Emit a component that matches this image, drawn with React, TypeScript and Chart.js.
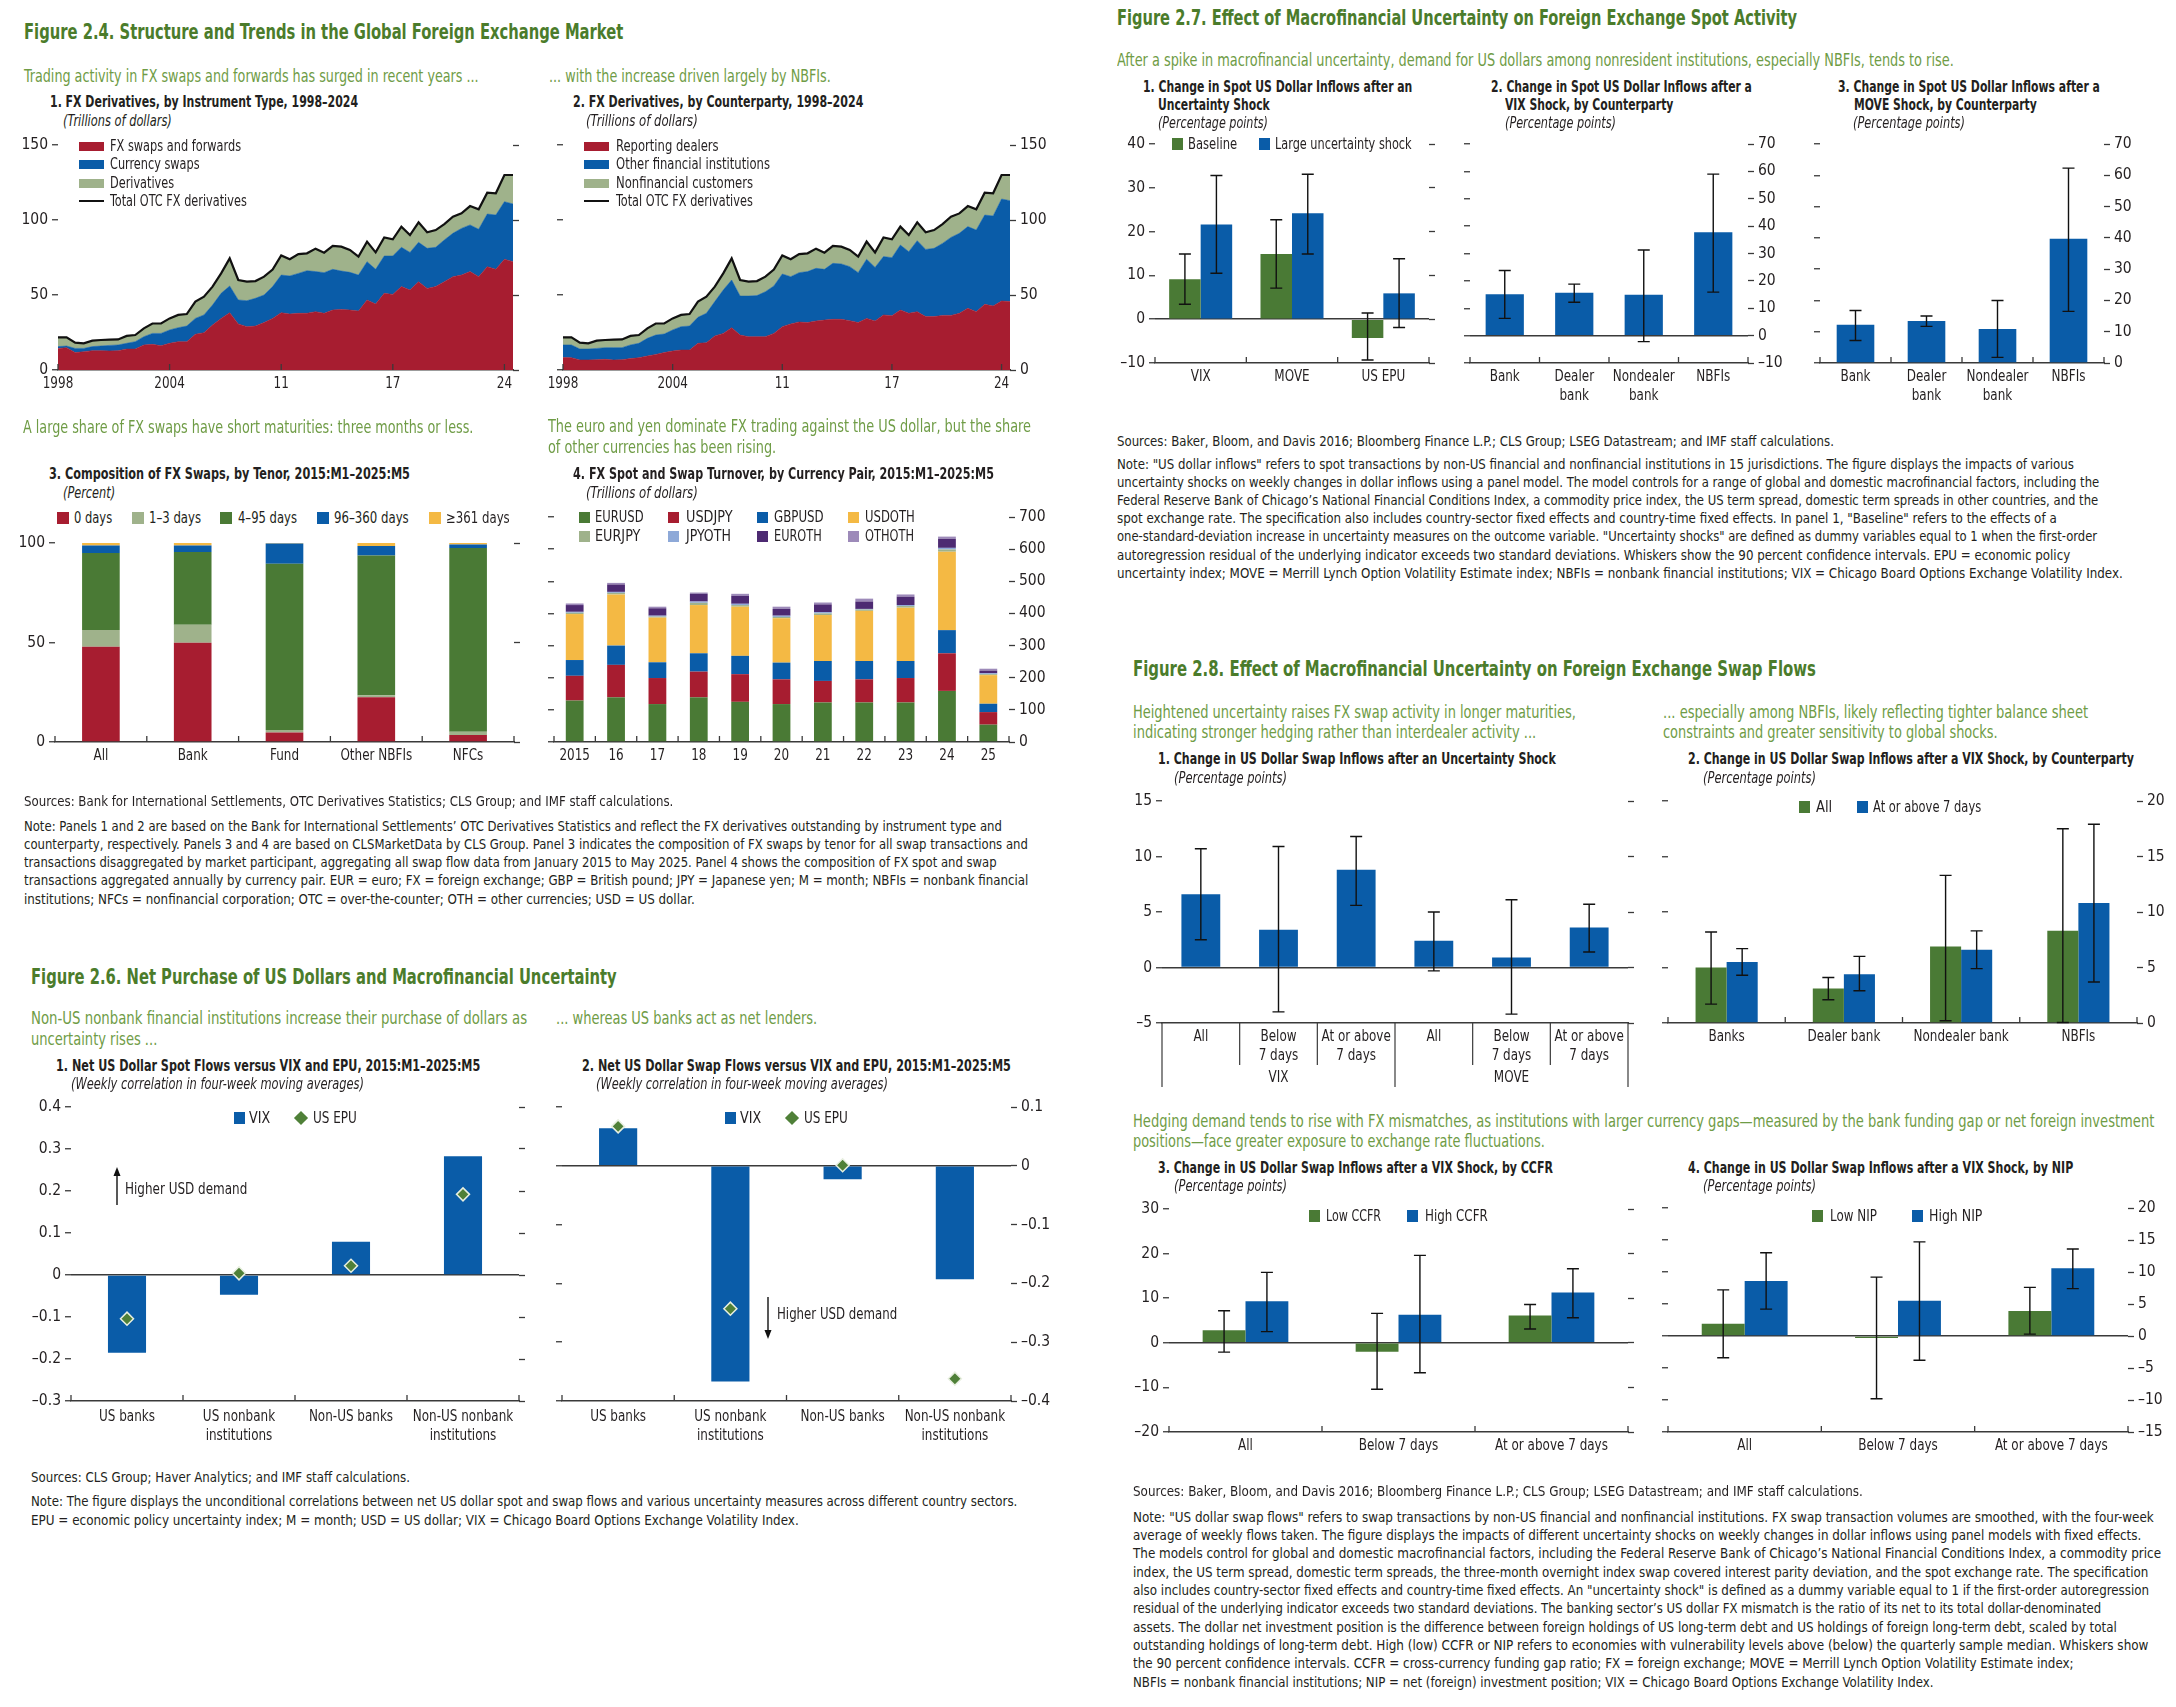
import React, { useEffect, useLayoutEffect, useRef } from 'react';
import { Chart, registerables } from 'chart.js';
Chart.register(...registerables);

// ---------- style constants ----------
const FONT = "'Liberation Sans Narrow', 'DejaVu Sans Condensed', Roboto, sans-serif";
const AX = '#3a3a3a';
const TXT = '#231f20';
const RED = '#a71d30';
const BLUE = '#0a5ca8';
const LGREEN = '#9fb28b';
const DGREEN = '#4a7a35';
const YELLOW = '#f4b944';
const LBLUE = '#8ea9d8';
const DPURPLE = '#4d2a72';
const LPURPLE = '#9d8ab9';
const TGREEN = '#4b7c2b';
const SGREEN = '#6f9c46';

// ---------- Figure 2.4 data ----------
const halfYears: string[] = [];
for (let y = 1998; y <= 2024; y++) { halfYears.push(y + ':H1'); halfYears.push(y + ':H2'); }
const periodTickIdx = [0, 13, 26, 39, 52];
const periodTickLabels = ['1998', '2004', '11', '17', '24'];

const fxSwapsFwd = [14.4,14.9,11.6,12.2,12.9,12.9,12.7,12.9,14.0,14.0,16.7,17.1,16.2,17.8,18.9,18.9,23.8,24.9,30.0,34.4,38.2,30.7,28.9,29.3,31.6,34.4,38.2,37.3,37.8,37.8,38.9,37.8,40.0,40.4,40.0,39.3,46.7,44.0,51.1,50.4,55.6,53.3,58.9,54.4,55.6,58.9,62.2,63.3,65.6,62.2,68.9,67.1,73.8,72.2];
const currencySwaps = [1.2,1.1,2.8,2.2,2.7,3.1,3.7,3.8,3.8,4.9,5.5,7.3,8.2,8.9,9.3,10.4,10.6,11.8,13.3,16.7,17.8,16.0,17.3,18.5,18.4,21.2,25.1,25.4,26.6,28.4,26.7,27.1,27.1,25.6,25.1,24.0,25.5,23.1,24.9,25.6,26.2,25.1,26.2,26.7,26.2,27.8,28.9,31.1,31.1,31.6,35.1,36.2,38.4,38.5];
const otherDerivs = [6.2,5.8,3.8,3.4,4.0,4.0,3.8,3.7,4.9,4.4,5.6,6.6,6.6,7.7,8.5,8.0,11.2,12.2,12.3,13.3,18.4,13.3,12.7,11.5,12.2,11.4,13.1,11.1,12.9,11.6,15.3,13.3,15.6,16.2,14.9,12.3,13.4,11.3,12.4,11.1,13.8,11.6,13.3,10.7,11.5,10.6,11.1,10.0,12.6,13.3,14.2,14.5,17.8,19.3];
const totalOTC = [21.8,21.8,18.2,17.8,19.6,20.0,20.2,20.4,22.7,23.3,27.8,31.0,31.0,34.4,36.7,37.3,45.6,48.9,55.6,64.4,74.4,60.0,58.9,59.3,62.2,67.0,76.4,73.8,77.3,77.8,80.9,78.2,82.7,82.2,80.0,75.6,85.6,78.4,88.4,87.1,95.6,90.0,98.4,91.8,93.3,97.3,102.2,104.4,109.3,107.1,118.2,117.8,130.0,130.0];

const reportingDealers = [8.4,8.2,6.7,6.7,6.9,7.1,6.7,6.9,7.6,8.2,9.3,10.4,11.6,12.7,13.3,13.3,17.8,18.2,22.7,24.4,28.2,23.3,22.2,22.2,22.2,24.4,28.9,30.7,32.0,31.6,32.7,33.3,33.8,33.8,32.9,31.6,34.4,32.7,36.7,36.2,40.0,37.8,38.9,35.6,35.6,36.4,36.4,37.8,41.1,38.9,43.8,42.7,46.0,45.6];
const otherFinInst = [8.3,8.5,7.3,7.3,7.5,7.8,8.2,8.0,9.1,9.6,11.8,12.9,12.4,14.0,15.6,16.0,17.3,19.6,22.9,28.9,31.8,26.0,27.1,27.4,30.0,31.6,35.1,31.5,32.9,34.0,35.1,33.8,37.3,36.9,36.0,33.3,39.4,35.7,38.9,38.7,43.3,41.1,47.3,44.8,45.5,48.0,52.0,53.3,54.5,54.4,59.5,60.0,68.0,67.3];
const nonfinCustomers = [5.1,5.1,4.2,3.8,5.2,5.1,5.3,5.5,6.0,5.5,6.7,7.7,7.0,7.7,7.8,8.0,10.5,11.1,10.0,11.1,14.4,10.7,9.6,9.7,10.0,11.0,12.4,11.6,12.4,12.2,13.1,11.1,11.6,11.5,11.1,10.7,11.8,10.0,12.8,12.2,12.3,11.1,12.2,11.4,12.2,12.9,13.8,13.3,13.7,13.8,14.9,15.1,16.0,17.1];

const tenorCats = ['All', 'Bank', 'Fund', 'Other NBFIs', 'NFCs'];
const days0 = [47.9, 49.9, 4.8, 22.5, 3.5];
const days1to3 = [8.4, 9.0, 1.2, 1.0, 1.7];
const days4to95 = [38.7, 36.6, 83.6, 70.2, 92.3];
const days96to360 = [3.8, 3.3, 10.1, 4.8, 1.8];
const days361plus = [1.2, 1.2, 0.3, 1.5, 0.7];

const turnoverYears = ['2015', '16', '17', '18', '19', '20', '21', '22', '23', '24', '25'];
const EURUSD = [129, 139, 118, 139, 125, 118, 123, 123, 123, 159, 54];
const USDJPY = [77, 101, 81, 80, 86, 77, 67, 72, 76, 117, 39];
const GBPUSD = [49, 60, 49, 57, 57, 52, 62, 57, 53, 72, 26];
const USDOTH = [143, 159, 139, 150, 153, 138, 143, 156, 166, 244, 89];
const EURJPY = [4, 5, 3, 7, 5, 4, 5, 4, 5, 7, 3];
const JPYOTH = [3, 3, 3, 4, 4, 4, 4, 2, 3, 5, 3];
const EUROTH = [21, 23, 23, 24, 25, 21, 24, 23, 26, 28, 8];
const OTHOTH = [5, 5, 5, 4, 6, 7, 6, 9, 7, 7, 6];

// ---------- Figure 2.6 data ----------
const sectors = [['US banks'], ['US nonbank', 'institutions'], ['Non-US banks'], ['Non-US nonbank', 'institutions']];
const spotVIX = [-0.185, -0.047, 0.079, 0.283];
const spotEPU = [-0.104, 0.004, 0.022, 0.192];
const swapVIX = [0.064, -0.367, -0.023, -0.193];
const swapEPU = [0.067, -0.243, 0.001, -0.362];

// ---------- Figure 2.7 data ----------
const shockCats = ['VIX', 'MOVE', 'US EPU'];
const baseline = [9.1, 14.9, -4.3];
const baselineCI = [[3.4, 14.9], [7.1, 22.7], [-9.3, 1.4]];
const largeShock = [21.6, 24.2, 5.9];
const largeShockCI = [[10.5, 32.8], [14.9, 33.1], [-1.9, 13.8]];
const cptyCats = [['Bank'], ['Dealer', 'bank'], ['Nondealer', 'bank'], ['NBFIs']];
const vixSpot = [15.1, 15.7, 14.9, 37.8];
const vixSpotCI = [[6.3, 23.8], [12.2, 18.8], [-2.2, 31.3], [15.9, 59.0]];
const moveSpot = [12.2, 13.4, 10.9, 39.7];
const moveSpotCI = [[7.2, 16.8], [11.7, 15.0], [1.8, 20.0], [16.5, 62.3]];

// ---------- Figure 2.8 data ----------
const tenorGroups = ['VIX', 'MOVE'];
const tenorLabels = [['All'], ['Below', '7 days'], ['At or above', '7 days']];
const swapShock = [6.6, 3.4, 8.8, 2.4, 0.9, 3.6];
const swapShockCI = [[2.5, 10.7], [-4.0, 10.9], [5.6, 11.8], [-0.3, 5.0], [-4.2, 6.1], [1.4, 5.7]];
const swapCptyCats = ['Banks', 'Dealer bank', 'Nondealer bank', 'NBFIs'];
const swapAll = [5.0, 3.1, 6.9, 8.3];
const swapAllCI = [[1.7, 8.2], [2.1, 4.1], [0.2, 13.3], [0.05, 17.5]];
const swapAbove7 = [5.5, 4.4, 6.6, 10.8];
const swapAbove7CI = [[4.3, 6.7], [2.9, 6.0], [4.9, 8.3], [3.7, 17.9]];
const vulnCats = ['All', 'Below 7 days', 'At or above 7 days'];
const lowCCFR = [2.8, -2.0, 6.1];
const lowCCFR_CI = [[-2.1, 7.2], [-10.4, 6.6], [3.1, 8.6]];
const highCCFR = [9.3, 6.3, 11.3];
const highCCFR_CI = [[2.5, 15.8], [-6.7, 19.6], [5.6, 16.6]];
const lowNIP = [1.9, -0.3, 3.9];
const lowNIP_CI = [[-3.4, 7.2], [-9.8, 9.2], [0.3, 7.6]];
const highNIP = [8.6, 5.5, 10.6];
const highNIP_CI = [[4.2, 13.0], [-3.8, 14.7], [7.4, 13.6]];

// ---------- helpers ----------
type Box = { l: number; r: number; t: number; b: number };
type Mg = { l: number; r: number; t: number; b: number };
const M: Mg = { l: 50, r: 52, t: 14, b: 52 };
const TICK_SIZE = 15.5;

const fmtD = (d: number) => (v: number) => {
  const a = Math.abs(v) < 1e-9 ? 0 : v;
  if (a === 0) return '0';
  return (a < 0 ? '\u2013' : '') + Math.abs(a).toFixed(d);
};

const upTicks = {
  id: 'upTicks',
  afterDatasetsDraw(chart: any, _a: any, opts: any) {
    if (!opts || !opts.mode) return;
    const xs = chart.scales.x;
    const ctx = chart.ctx;
    const yb = chart.chartArea.bottom;
    const n = xs.getLabels().length;
    const pts: number[] = [];
    if (opts.mode === 'idx') (opts.idx as number[]).forEach((i) => pts.push(xs.getPixelForValue(i)));
    else for (let i = 0; i <= n; i++) pts.push(xs.left + (i * (xs.right - xs.left)) / n);
    ctx.save();
    ctx.strokeStyle = AX;
    ctx.lineWidth = 1.3;
    pts.forEach((px) => { ctx.beginPath(); ctx.moveTo(px, yb); ctx.lineTo(px, yb - 6); ctx.stroke(); });
    ctx.restore();
  },
};

// draws the category labels of the x scale, horizontally condensed
const condX = {
  id: 'condX',
  afterDraw(chart: any) {
    const xs = chart.scales.x;
    const ctx = chart.ctx;
    const pad = xs.options.ticks.padding;
    const lh = TICK_SIZE * 1.2;
    const yb = chart.chartArea.bottom;
    ctx.save();
    ctx.fillStyle = TXT;
    ctx.font = TICK_SIZE + 'px ' + FONT;
    ctx.textAlign = 'center';
    ctx.textBaseline = 'middle';
    xs.ticks.forEach((t: any, i: number) => {
      const lab = t.label;
      const lines = Array.isArray(lab) ? lab : [lab];
      const x = xs.getPixelForTick(i);
      lines.forEach((ln: string, k: number) => {
        if (!ln) return;
        ctx.save();
        ctx.translate(x, yb + pad + lh / 2 + k * lh + (k >= 2 ? 3 : 0));
        ctx.scale(0.86, 1);
        ctx.fillText(ln, 0, 0);
        ctx.restore();
      });
    });
    ctx.restore();
  },
};

const sepLines = {
  id: 'sepLines',
  afterDraw(chart: any, _a: any, opts: any) {
    if (!opts || !opts.longAt) return;
    const xs = chart.scales.x;
    const ctx = chart.ctx;
    const yb = chart.chartArea.bottom;
    const n = xs.getLabels().length;
    ctx.save();
    ctx.strokeStyle = AX;
    ctx.lineWidth = 1.2;
    for (let i = 0; i <= n; i++) {
      const px = xs.left + (i * (xs.right - xs.left)) / n;
      const len = (opts.longAt as number[]).indexOf(i) >= 0 ? opts.longLen : opts.shortLen;
      ctx.beginPath(); ctx.moveTo(px, yb); ctx.lineTo(px, yb + len); ctx.stroke();
    }
    ctx.restore();
  },
};

const errBars = {
  id: 'errBars',
  afterDatasetsDraw(chart: any) {
    const ctx = chart.ctx;
    chart.data.datasets.forEach((ds: any, di: number) => {
      if (!ds.ci) return;
      const meta = chart.getDatasetMeta(di);
      const ys = chart.scales[meta.yAxisID];
      meta.data.forEach((el: any, i: number) => {
        const c = ds.ci[i];
        if (!c) return;
        const x = el.x;
        const y1 = ys.getPixelForValue(c[0]);
        const y2 = ys.getPixelForValue(c[1]);
        ctx.save();
        ctx.strokeStyle = '#111';
        ctx.lineWidth = 1.4;
        ctx.beginPath();
        ctx.moveTo(x, y1); ctx.lineTo(x, y2);
        ctx.moveTo(x - 6, y1); ctx.lineTo(x + 6, y1);
        ctx.moveTo(x - 6, y2); ctx.lineTo(x + 6, y2);
        ctx.stroke();
        ctx.restore();
      });
    });
  },
};

function axes(o: any) {
  const tickFont = { family: FONT, size: TICK_SIZE };
  return {
    x: {
      type: 'category',
      offset: o.offset === undefined ? true : o.offset,
      stacked: !!o.stackedX,
      grid: { display: false, drawTicks: false },
      border: { display: true, color: AX, width: 1.5 },
      ticks: {
        autoSkip: false, maxRotation: 0, minRotation: 0, padding: o.xpad === undefined ? 5 : o.xpad,
        color: 'rgba(0,0,0,0)', font: tickFont, ...(o.xcb ? { callback: o.xcb } : {}),
      },
      afterFit: (s: any) => { s.height = o.m.b; },
    },
    y: {
      position: 'left', min: o.min, max: o.max, stacked: !!o.stacked, z: o.zero ? 1 : 0,
      ticks: { stepSize: o.step, display: o.left, padding: 4, color: TXT, font: tickFont, autoSkip: false, callback: (v: any) => o.fmt(Number(v)) },
      grid: {
        drawOnChartArea: !!o.zero,
        color: (c: any) => (c.tick && Math.abs(c.tick.value) < 1e-9 ? AX : 'rgba(0,0,0,0)'),
        lineWidth: 1.5, tickColor: AX, tickWidth: 1.3, tickLength: 6, drawTicks: true,
      },
      border: { display: false },
      afterFit: (s: any) => { s.width = o.m.l; },
    },
    y2: {
      axis: 'y', position: 'right', min: o.min, max: o.max,
      ticks: { stepSize: o.step, display: o.right, padding: 4, color: TXT, font: tickFont, autoSkip: false, callback: (v: any) => o.fmt(Number(v)) },
      grid: { drawOnChartArea: false, tickColor: AX, tickWidth: 1.3, tickLength: 6, drawTicks: true },
      border: { display: false },
      afterFit: (s: any) => { s.width = o.m.r; },
    },
  };
}

const plug = (extra: any = {}) => ({ legend: { display: false }, tooltip: { enabled: false }, ...extra });
const areaDs = (data: number[], color: string, fill: string) => ({ data, fill, backgroundColor: color, borderColor: color, borderWidth: 0.5, pointRadius: 0, tension: 0, stack: 'parts' });
const totalDs = (data: number[]) => ({ data, fill: false, borderColor: '#111', borderWidth: 2.2, pointRadius: 0, tension: 0, stack: 'total', order: -1 });
const barDs = (data: number[], color: string, cat: number, extra: any = {}) => ({ data, backgroundColor: color, borderWidth: 0, barPercentage: 1, categoryPercentage: cat, ...extra });
const diamondDs = (data: number[]) => ({ type: 'line', data, showLine: false, pointStyle: 'rectRot', pointRadius: 6.5, pointBackgroundColor: '#4f8038', pointBorderColor: '#e8efe0', pointBorderWidth: 1.5, order: -2, clip: false });
const periodTick = (_v: any, i: number) => { const k = periodTickIdx.indexOf(i); return k >= 0 ? periodTickLabels[k] : ''; };

function ChartBox({ box, m, make }: { box: Box; m: Mg; make: () => any }) {
  const ref = useRef<HTMLCanvasElement>(null);
  const W = Math.round(box.r - box.l + m.l + m.r);
  const H = Math.round(box.b - box.t + m.t + m.b);
  useEffect(() => {
    const cfg = make();
    cfg.options = {
      ...cfg.options, responsive: false, maintainAspectRatio: false, animation: false, devicePixelRatio: 1,
      layout: { padding: { top: m.t, left: 0, right: 0, bottom: 0 } },
    };
    cfg.plugins = [...(cfg.plugins || []), condX];
    const ch = new Chart(ref.current as HTMLCanvasElement, cfg);
    return () => ch.destroy();
  }, []);
  return <canvas ref={ref} width={W} height={H} style={{ position: 'absolute', left: Math.round(box.l - m.l), top: Math.round(box.t - m.t), width: W, height: H }} />;
}

type TP = { x: number; y: number; w?: number; s: number; b?: boolean; i?: boolean; c?: string; children: React.ReactNode };
function T({ x, y, w, s, b, i, c, children }: TP) {
  const ref = useRef<HTMLDivElement>(null);
  useLayoutEffect(() => {
    const el = ref.current;
    if (!el) return;
    const nat = el.offsetWidth;
    const target = w === undefined ? nat * 0.9 : w;
    if (nat > 0) el.style.transform = 'scaleX(' + target / nat + ')';
  }, [w]);
  const lh = Math.round(s * 1.25);
  return (
    <div ref={ref} style={{ position: 'absolute', left: x, top: y - lh / 2, fontFamily: FONT, fontSize: s, lineHeight: lh + 'px', fontWeight: b ? 700 : 400, fontStyle: i ? 'italic' : 'normal', color: c || TXT, whiteSpace: 'nowrap', transformOrigin: '0 0' }}>
      {children}
    </div>
  );
}
const Title = (p: any) => <T s={21} b c={TGREEN} {...p} />;
const Sub = (p: any) => <T s={17.5} c={SGREEN} {...p} />;
const PT = (p: any) => <T s={16.5} b {...p} />;
const Unit = (p: any) => <T s={15} i {...p} />;
const Note = (p: any) => <T s={13.8} {...p} />;
const LT = (p: any) => <T s={15.5} {...p} />;

const Sq = ({ x, y, w = 12, h = 12, c }: any) => <div style={{ position: 'absolute', left: x, top: y - h / 2, width: w, height: h, background: c }} />;
const Dia = ({ cx, y, c }: any) => <div style={{ position: 'absolute', left: cx - 5, top: y - 5, width: 10, height: 10, background: c, transform: 'rotate(45deg)' }} />;

function Arrow({ x, y1, y2 }: { x: number; y1: number; y2: number }) {
  const dir = y2 < y1 ? -1 : 1;
  const top = Math.min(y1, y2) - 2;
  const h = Math.abs(y2 - y1) + 4;
  const hy = y2 - top;
  return (
    <svg style={{ position: 'absolute', left: x - 6, top }} width={12} height={h}>
      <line x1={6} y1={y1 - top} x2={6} y2={hy - dir * 6} stroke="#111" strokeWidth={1.4} />
      <polygon points={`6,${hy} 2.5,${hy - dir * 9} 9.5,${hy - dir * 9}`} fill="#111" />
    </svg>
  );
}

// ---------- chart configs ----------
const B241: Box = { l: 58, r: 513, t: 145, b: 370 };
const B242: Box = { l: 563, r: 1010, t: 145, b: 370 };
const B243: Box = { l: 55, r: 514, t: 543, b: 742 };
const B244: Box = { l: 554, r: 1009, t: 517, b: 742 };
const B261: Box = { l: 71, r: 519, t: 1107, b: 1401 };
const B262: Box = { l: 562, r: 1011, t: 1107, b: 1401 };
const B271: Box = { l: 1155, r: 1429, t: 144, b: 363 };
const B272: Box = { l: 1470, r: 1748, t: 144, b: 363 };
const B273: Box = { l: 1820, r: 2104, t: 144, b: 363 };
const B281: Box = { l: 1162, r: 1628, t: 801, b: 1023 };
const B282: Box = { l: 1668, r: 2137, t: 801, b: 1023 };
const B283: Box = { l: 1169, r: 1628, t: 1209, b: 1432 };
const B284: Box = { l: 1668, r: 2128, t: 1208, b: 1432 };
const M281: Mg = { l: 50, r: 52, t: 14, b: 80 };

const cfg241 = () => ({
  type: 'line',
  data: { labels: halfYears, datasets: [areaDs(fxSwapsFwd, RED, 'origin'), areaDs(currencySwaps, BLUE, '-1'), areaDs(otherDerivs, LGREEN, '-1'), totalDs(totalOTC)] },
  options: { scales: axes({ min: 0, max: 150, step: 50, left: true, right: false, m: M, offset: false, stacked: true, fmt: fmtD(0), xcb: periodTick }), plugins: plug({ upTicks: { mode: 'idx', idx: periodTickIdx } }) },
  plugins: [upTicks],
});
const cfg242 = () => ({
  type: 'line',
  data: { labels: halfYears, datasets: [areaDs(reportingDealers, RED, 'origin'), areaDs(otherFinInst, BLUE, '-1'), areaDs(nonfinCustomers, LGREEN, '-1'), totalDs(totalOTC)] },
  options: { scales: axes({ min: 0, max: 150, step: 50, left: false, right: true, m: M, offset: false, stacked: true, fmt: fmtD(0), xcb: periodTick }), plugins: plug({ upTicks: { mode: 'idx', idx: periodTickIdx } }) },
  plugins: [upTicks],
});
const cfg243 = () => ({
  type: 'bar',
  data: {
    labels: tenorCats,
    datasets: [barDs(days0, RED, 0.41), barDs(days1to3, LGREEN, 0.41), barDs(days4to95, DGREEN, 0.41), barDs(days96to360, BLUE, 0.41), barDs(days361plus, YELLOW, 0.41)],
  },
  options: { scales: axes({ min: 0, max: 100, step: 50, left: true, right: false, m: M, stacked: true, stackedX: true, fmt: fmtD(0) }), plugins: plug({ upTicks: { mode: 'cat' } }) },
  plugins: [upTicks],
});
const cfg244 = () => ({
  type: 'bar',
  data: {
    labels: turnoverYears,
    datasets: [
      barDs(EURUSD, DGREEN, 0.43), barDs(USDJPY, RED, 0.43), barDs(GBPUSD, BLUE, 0.43), barDs(USDOTH, YELLOW, 0.43),
      barDs(EURJPY, LGREEN, 0.43), barDs(JPYOTH, LBLUE, 0.43), barDs(EUROTH, DPURPLE, 0.43), barDs(OTHOTH, LPURPLE, 0.43),
    ],
  },
  options: { scales: axes({ min: 0, max: 700, step: 100, left: false, right: true, m: M, stacked: true, stackedX: true, fmt: fmtD(0) }), plugins: plug({ upTicks: { mode: 'cat' } }) },
  plugins: [upTicks],
});
const cfg261 = () => ({
  type: 'bar',
  data: { labels: sectors, datasets: [barDs(spotVIX, BLUE, 0.34), diamondDs(spotEPU)] },
  options: { scales: axes({ min: -0.3, max: 0.4, step: 0.1, left: true, right: false, zero: true, m: M, fmt: fmtD(1), xpad: 7 }), plugins: plug({ upTicks: { mode: 'cat' } }) },
  plugins: [upTicks],
});
const cfg262 = () => ({
  type: 'bar',
  data: { labels: sectors, datasets: [barDs(swapVIX, BLUE, 0.34), diamondDs(swapEPU)] },
  options: { scales: axes({ min: -0.4, max: 0.1, step: 0.1, left: false, right: true, zero: true, m: M, fmt: fmtD(1), xpad: 7 }), plugins: plug({ upTicks: { mode: 'cat' } }) },
  plugins: [upTicks],
});
const cfg271 = () => ({
  type: 'bar',
  data: { labels: shockCats, datasets: [barDs(baseline, DGREEN, 0.69, { ci: baselineCI }), barDs(largeShock, BLUE, 0.69, { ci: largeShockCI })] },
  options: { scales: axes({ min: -10, max: 40, step: 10, left: true, right: false, zero: true, m: M, fmt: fmtD(0) }), plugins: plug({ upTicks: { mode: 'cat' } }) },
  plugins: [upTicks, errBars],
});
const cfg272 = () => ({
  type: 'bar',
  data: { labels: cptyCats, datasets: [barDs(vixSpot, BLUE, 0.55, { ci: vixSpotCI })] },
  options: { scales: axes({ min: -10, max: 70, step: 10, left: false, right: true, zero: true, m: M, fmt: fmtD(0) }), plugins: plug({ upTicks: { mode: 'cat' } }) },
  plugins: [upTicks, errBars],
});
const cfg273 = () => ({
  type: 'bar',
  data: { labels: cptyCats, datasets: [barDs(moveSpot, BLUE, 0.53, { ci: moveSpotCI })] },
  options: { scales: axes({ min: 0, max: 70, step: 10, left: false, right: true, zero: false, m: M, fmt: fmtD(0) }), plugins: plug({ upTicks: { mode: 'cat' } }) },
  plugins: [upTicks, errBars],
});
const shockTenorLabels: string[][] = [];
tenorGroups.forEach((g) => tenorLabels.forEach((t, k) => shockTenorLabels.push(k === 1 ? [...t, g] : [...t])));
const cfg281 = () => ({
  type: 'bar',
  data: { labels: shockTenorLabels, datasets: [barDs(swapShock, BLUE, 0.5, { ci: swapShockCI })] },
  options: { scales: axes({ min: -5, max: 15, step: 5, left: true, right: false, zero: true, m: M281, fmt: fmtD(0) }), plugins: plug({ sepLines: { longAt: [0, 3, 6], longLen: 64, shortLen: 42 } }) },
  plugins: [sepLines, errBars],
});
const cfg282 = () => ({
  type: 'bar',
  data: { labels: swapCptyCats, datasets: [barDs(swapAll, DGREEN, 0.53, { ci: swapAllCI }), barDs(swapAbove7, BLUE, 0.53, { ci: swapAbove7CI })] },
  options: { scales: axes({ min: 0, max: 20, step: 5, left: false, right: true, zero: false, m: M, fmt: fmtD(0) }), plugins: plug({ upTicks: { mode: 'cat' } }) },
  plugins: [upTicks, errBars],
});
const cfg283 = () => ({
  type: 'bar',
  data: { labels: vulnCats, datasets: [barDs(lowCCFR, DGREEN, 0.56, { ci: lowCCFR_CI }), barDs(highCCFR, BLUE, 0.56, { ci: highCCFR_CI })] },
  options: { scales: axes({ min: -20, max: 30, step: 10, left: true, right: false, zero: true, m: M, fmt: fmtD(0) }), plugins: plug({ upTicks: { mode: 'cat' } }) },
  plugins: [upTicks, errBars],
});
const cfg284 = () => ({
  type: 'bar',
  data: { labels: vulnCats, datasets: [barDs(lowNIP, DGREEN, 0.56, { ci: lowNIP_CI }), barDs(highNIP, BLUE, 0.56, { ci: highNIP_CI })] },
  options: { scales: axes({ min: -15, max: 20, step: 5, left: false, right: true, zero: true, m: M, fmt: fmtD(0) }), plugins: plug({ upTicks: { mode: 'cat' } }) },
  plugins: [upTicks, errBars],
});

// ---------- notes text ----------
const note24 = [
  'Note: Panels 1 and 2 are based on the Bank for International Settlements\u2019 OTC Derivatives Statistics and reflect the FX derivatives outstanding by instrument type and',
  'counterparty, respectively. Panels 3 and 4 are based on CLSMarketData by CLS Group. Panel 3 indicates the composition of FX swaps by tenor for all swap transactions and',
  'transactions disaggregated by market participant, aggregating all swap flow data from January 2015 to May 2025. Panel 4 shows the composition of FX spot and swap',
  'transactions aggregated annually by currency pair. EUR = euro; FX = foreign exchange; GBP = British pound; JPY = Japanese yen; M = month; NBFIs = nonbank financial',
  'institutions; NFCs = nonfinancial corporation; OTC = over-the-counter; OTH = other currencies; USD = US dollar.',
];
const note24W = [978, 1004, 973, 1004, 671];
const note26 = [
  'Note: The figure displays the unconditional correlations between net US dollar spot and swap flows and various uncertainty measures across different country sectors.',
  'EPU = economic policy uncertainty index; M = month; USD = US dollar; VIX = Chicago Board Options Exchange Volatility Index.',
];
const note26W = [986, 768];
const note27 = [
  'Note: "US dollar inflows" refers to spot transactions by non-US financial and nonfinancial institutions in 15 jurisdictions. The figure displays the impacts of various',
  'uncertainty shocks on weekly changes in dollar inflows using a panel model. The model controls for a range of global and domestic macrofinancial factors, including the',
  'Federal Reserve Bank of Chicago\u2019s National Financial Conditions Index, a commodity price index, the US term spread, domestic term spreads in other countries, and the',
  'spot exchange rate. The specification also includes country-sector fixed effects and country-time fixed effects. In panel 1, "Baseline" refers to the effects of a',
  'one-standard-deviation increase in uncertainty measures on the outcome variable. "Uncertainty shocks" are defined as dummy variables equal to 1 when the first-order',
  'autoregression residual of the underlying indicator exceeds two standard deviations. Whiskers show the 90 percent confidence intervals. EPU = economic policy',
  'uncertainty index; MOVE = Merrill Lynch Option Volatility Estimate index; NBFIs = nonbank financial institutions; VIX = Chicago Board Options Exchange Volatility Index.',
];
const note27W = [957, 982, 981, 940, 980, 953, 1006];
const note28 = [
  'Note: "US dollar swap flows" refers to swap transactions by non-US financial and nonfinancial institutions. FX swap transaction volumes are smoothed, with the four-week',
  'average of weekly flows taken. The figure displays the impacts of different uncertainty shocks on weekly changes in dollar inflows using panel models with fixed effects.',
  'The models control for global and domestic macrofinancial factors, including the Federal Reserve Bank of Chicago\u2019s National Financial Conditions Index, a commodity price',
  'index, the US term spread, domestic term spreads, the three-month overnight index swap covered interest parity deviation, and the spot exchange rate. The specification',
  'also includes country-sector fixed effects and country-time fixed effects. An "uncertainty shock" is defined as a dummy variable equal to 1 if the first-order autoregression',
  'residual of the underlying indicator exceeds two standard deviations. The banking sector\u2019s US dollar FX mismatch is the ratio of its net to its total dollar-denominated',
  'assets. The dollar net investment position is the difference between foreign holdings of US long-term debt and US holdings of foreign long-term debt, scaled by total',
  'outstanding holdings of long-term debt. High (low) CCFR or NIP refers to economies with vulnerability levels above (below) the quarterly sample median. Whiskers show',
  'the 90 percent confidence intervals. CCFR = cross-currency funding gap ratio; FX = foreign exchange; MOVE = Merrill Lynch Option Volatility Estimate index;',
  'NBFIs = nonbank financial institutions; NIP = net (foreign) investment position; VIX = Chicago Board Options Exchange Volatility Index.',
];
const note28W = [1021, 1008, 1028, 1015, 1016, 968, 984, 1015, 941, 800];

export default function App() {
  return (
    <div style={{ position: 'absolute', left: 0, top: 0, width: 2176, height: 1707, overflow: 'hidden', background: '#fff' }}>
      <ChartBox box={B241} m={M} make={cfg241} />
      <ChartBox box={B242} m={M} make={cfg242} />
      <ChartBox box={B243} m={M} make={cfg243} />
      <ChartBox box={B244} m={M} make={cfg244} />
      <ChartBox box={B261} m={M} make={cfg261} />
      <ChartBox box={B262} m={M} make={cfg262} />
      <ChartBox box={B271} m={M} make={cfg271} />
      <ChartBox box={B272} m={M} make={cfg272} />
      <ChartBox box={B273} m={M} make={cfg273} />
      <ChartBox box={B281} m={M281} make={cfg281} />
      <ChartBox box={B282} m={M} make={cfg282} />
      <ChartBox box={B283} m={M} make={cfg283} />
      <ChartBox box={B284} m={M} make={cfg284} />

      {/* Figure 2.4 */}
      <Title x={24} y={32} w={599}>Figure 2.4. Structure and Trends in the Global Foreign Exchange Market</Title>
      <Sub x={24} y={76} w={455}>Trading activity in FX swaps and forwards has surged in recent years ...</Sub>
      <Sub x={549} y={76} w={282}>... with the increase driven largely by NBFIs.</Sub>
      <PT x={50} y={101} w={308}>1. FX Derivatives, by Instrument Type, 1998–2024</PT>
      <Unit x={63} y={121} w={109}>(Trillions of dollars)</Unit>
      <PT x={573} y={101} w={290}>2. FX Derivatives, by Counterparty, 1998–2024</PT>
      <Unit x={586} y={121} w={112}>(Trillions of dollars)</Unit>

      <Sq x={79} y={146} w={25} h={9} c={RED} /><LT x={110} y={146} w={131}>FX swaps and forwards</LT>
      <Sq x={79} y={164} w={25} h={9} c={BLUE} /><LT x={110} y={164} w={90}>Currency swaps</LT>
      <Sq x={79} y={183} w={25} h={9} c={LGREEN} /><LT x={110} y={183} w={64}>Derivatives</LT>
      <Sq x={79} y={201} w={25} h={2.5} c="#111" /><LT x={110} y={201} w={137}>Total OTC FX derivatives</LT>

      <Sq x={584} y={146} w={25} h={9} c={RED} /><LT x={616} y={146} w={103}>Reporting dealers</LT>
      <Sq x={584} y={164} w={25} h={9} c={BLUE} /><LT x={616} y={164} w={154}>Other financial institutions</LT>
      <Sq x={584} y={183} w={25} h={9} c={LGREEN} /><LT x={616} y={183} w={137}>Nonfinancial customers</LT>
      <Sq x={584} y={201} w={25} h={2.5} c="#111" /><LT x={616} y={201} w={137}>Total OTC FX derivatives</LT>

      <Sub x={23} y={427} w={450}>A large share of FX swaps have short maturities: three months or less.</Sub>
      <PT x={49} y={473} w={361}>3. Composition of FX Swaps, by Tenor, 2015:M1–2025:M5</PT>
      <Unit x={63} y={493} w={52}>(Percent)</Unit>
      <Sq x={57} y={518} c={RED} /><LT x={74} y={518} w={38}>0 days</LT>
      <Sq x={132} y={518} c={LGREEN} /><LT x={149} y={518} w={52}>1–3 days</LT>
      <Sq x={220} y={518} c={DGREEN} /><LT x={238} y={518} w={59}>4–95 days</LT>
      <Sq x={317} y={518} c={BLUE} /><LT x={334} y={518} w={75}>96–360 days</LT>
      <Sq x={429} y={518} c={YELLOW} /><LT x={446} y={518} w={64}>≥361 days</LT>

      <Sub x={548} y={426} w={483}>The euro and yen dominate FX trading against the US dollar, but the share</Sub>
      <Sub x={548} y={447} w={228}>of other currencies has been rising.</Sub>
      <PT x={573} y={473} w={421}>4. FX Spot and Swap Turnover, by Currency Pair, 2015:M1–2025:M5</PT>
      <Unit x={586} y={493} w={112}>(Trillions of dollars)</Unit>
      <Sq x={579} y={517} w={11} h={11} c={DGREEN} /><LT x={595} y={517} w={49}>EURUSD</LT>
      <Sq x={668} y={517} w={11} h={11} c={RED} /><LT x={686} y={517} w={47}>USDJPY</LT>
      <Sq x={757} y={517} w={11} h={11} c={BLUE} /><LT x={774} y={517} w={50}>GBPUSD</LT>
      <Sq x={848} y={517} w={11} h={11} c={YELLOW} /><LT x={865} y={517} w={50}>USDOTH</LT>
      <Sq x={579} y={536} w={11} h={11} c={LGREEN} /><LT x={595} y={536} w={45}>EURJPY</LT>
      <Sq x={668} y={536} w={11} h={11} c={LBLUE} /><LT x={686} y={536} w={45}>JPYOTH</LT>
      <Sq x={757} y={536} w={11} h={11} c={DPURPLE} /><LT x={774} y={536} w={48}>EUROTH</LT>
      <Sq x={848} y={536} w={11} h={11} c={LPURPLE} /><LT x={865} y={536} w={49}>OTHOTH</LT>

      <Note x={24} y={801} w={649}>Sources: Bank for International Settlements, OTC Derivatives Statistics; CLS Group; and IMF staff calculations.</Note>
      {note24.map((t, k) => <Note key={'n24' + k} x={24} y={826 + k * 18.3} w={note24W[k]}>{t}</Note>)}

      {/* Figure 2.6 */}
      <Title x={31} y={977} w={586}>Figure 2.6. Net Purchase of US Dollars and Macrofinancial Uncertainty</Title>
      <Sub x={31} y={1018} w={496}>Non-US nonbank financial institutions increase their purchase of dollars as</Sub>
      <Sub x={31} y={1039} w={126}>uncertainty rises ...</Sub>
      <Sub x={556} y={1018} w={261}>... whereas US banks act as net lenders.</Sub>
      <PT x={56} y={1065} w={424}>1. Net US Dollar Spot Flows versus VIX and EPU, 2015:M1–2025:M5</PT>
      <Unit x={71} y={1084} w={293}>(Weekly correlation in four-week moving averages)</Unit>
      <PT x={582} y={1065} w={429}>2. Net US Dollar Swap Flows versus VIX and EPU, 2015:M1–2025:M5</PT>
      <Unit x={596} y={1084} w={292}>(Weekly correlation in four-week moving averages)</Unit>
      <Sq x={234} y={1118} w={11} h={12} c={BLUE} /><LT x={249} y={1118} w={21}>VIX</LT>
      <Dia cx={301} y={1118} c="#4f8038" /><LT x={313} y={1118} w={44}>US EPU</LT>
      <Sq x={725} y={1118} w={11} h={12} c={BLUE} /><LT x={740} y={1118} w={21}>VIX</LT>
      <Dia cx={792} y={1118} c="#4f8038" /><LT x={804} y={1118} w={44}>US EPU</LT>
      <Arrow x={117} y1={1205} y2={1167} />
      <LT x={125} y={1189} w={122}>Higher USD demand</LT>
      <Arrow x={768} y1={1297} y2={1339} />
      <LT x={777} y={1314} w={120}>Higher USD demand</LT>
      <Note x={31} y={1477} w={379}>Sources: CLS Group; Haver Analytics; and IMF staff calculations.</Note>
      {note26.map((t, k) => <Note key={'n26' + k} x={31} y={1501 + k * 19} w={note26W[k]}>{t}</Note>)}

      {/* Figure 2.7 */}
      <Title x={1117} y={18} w={680}>Figure 2.7. Effect of Macrofinancial Uncertainty on Foreign Exchange Spot Activity</Title>
      <Sub x={1117} y={60} w={837}>After a spike in macrofinancial uncertainty, demand for US dollars among nonresident institutions, especially NBFIs, tends to rise.</Sub>
      <PT x={1143} y={86} w={269}>1. Change in Spot US Dollar Inflows after an</PT>
      <PT x={1158} y={104} w={112}>Uncertainty Shock</PT>
      <Unit x={1158} y={123} w={110}>(Percentage points)</Unit>
      <PT x={1491} y={86} w={261}>2. Change in Spot US Dollar Inflows after a</PT>
      <PT x={1505} y={104} w={168}>VIX Shock, by Counterparty</PT>
      <Unit x={1505} y={123} w={111}>(Percentage points)</Unit>
      <PT x={1838} y={86} w={262}>3. Change in Spot US Dollar Inflows after a</PT>
      <PT x={1854} y={104} w={183}>MOVE Shock, by Counterparty</PT>
      <Unit x={1853} y={123} w={112}>(Percentage points)</Unit>
      <Sq x={1172} y={144} w={11} h={12} c={DGREEN} /><LT x={1188} y={144} w={49}>Baseline</LT>
      <Sq x={1259} y={144} w={11} h={12} c={BLUE} /><LT x={1275} y={144} w={137}>Large uncertainty shock</LT>
      <Note x={1117} y={441} w={717}>Sources: Baker, Bloom, and Davis 2016; Bloomberg Finance L.P.; CLS Group; LSEG Datastream; and IMF staff calculations.</Note>
      {note27.map((t, k) => <Note key={'n27' + k} x={1117} y={464 + k * 18.2} w={note27W[k]}>{t}</Note>)}

      {/* Figure 2.8 */}
      <Title x={1133} y={669} w={683}>Figure 2.8. Effect of Macrofinancial Uncertainty on Foreign Exchange Swap Flows</Title>
      <Sub x={1133} y={712} w={443}>Heightened uncertainty raises FX swap activity in longer maturities,</Sub>
      <Sub x={1133} y={732} w={403}>indicating stronger hedging rather than interdealer activity ...</Sub>
      <Sub x={1663} y={712} w={425}>... especially among NBFIs, likely reflecting tighter balance sheet</Sub>
      <Sub x={1663} y={732} w={335}>constraints and greater sensitivity to global shocks.</Sub>
      <PT x={1158} y={758} w={398}>1. Change in US Dollar Swap Inflows after an Uncertainty Shock</PT>
      <Unit x={1174} y={778} w={113}>(Percentage points)</Unit>
      <PT x={1688} y={758} w={446}>2. Change in US Dollar Swap Inflows after a VIX Shock, by Counterparty</PT>
      <Unit x={1703} y={778} w={113}>(Percentage points)</Unit>
      <Sq x={1799} y={807} w={11} h={12} c={DGREEN} /><LT x={1816} y={807} w={16}>All</LT>
      <Sq x={1857} y={807} w={11} h={12} c={BLUE} /><LT x={1873} y={807} w={108}>At or above 7 days</LT>

      <Sub x={1133} y={1121} w={1021}>Hedging demand tends to rise with FX mismatches, as institutions with larger currency gaps—measured by the bank funding gap or net foreign investment</Sub>
      <Sub x={1133} y={1141} w={412}>positions—face greater exposure to exchange rate fluctuations.</Sub>
      <PT x={1158} y={1167} w={395}>3. Change in US Dollar Swap Inflows after a VIX Shock, by CCFR</PT>
      <Unit x={1174} y={1186} w={113}>(Percentage points)</Unit>
      <PT x={1688} y={1167} w={385}>4. Change in US Dollar Swap Inflows after a VIX Shock, by NIP</PT>
      <Unit x={1703} y={1186} w={113}>(Percentage points)</Unit>
      <Sq x={1309} y={1216} w={11} h={12} c={DGREEN} /><LT x={1326} y={1216} w={55}>Low CCFR</LT>
      <Sq x={1407} y={1216} w={11} h={12} c={BLUE} /><LT x={1425} y={1216} w={63}>High CCFR</LT>
      <Sq x={1812} y={1216} w={11} h={12} c={DGREEN} /><LT x={1830} y={1216} w={47}>Low NIP</LT>
      <Sq x={1912} y={1216} w={11} h={12} c={BLUE} /><LT x={1929} y={1216} w={53}>High NIP</LT>
      <Note x={1133} y={1491} w={730}>Sources: Baker, Bloom, and Davis 2016; Bloomberg Finance L.P.; CLS Group; LSEG Datastream; and IMF staff calculations.</Note>
      {note28.map((t, k) => <Note key={'n28' + k} x={1133} y={1517 + k * 18.35} w={note28W[k]}>{t}</Note>)}
    </div>
  );
}
